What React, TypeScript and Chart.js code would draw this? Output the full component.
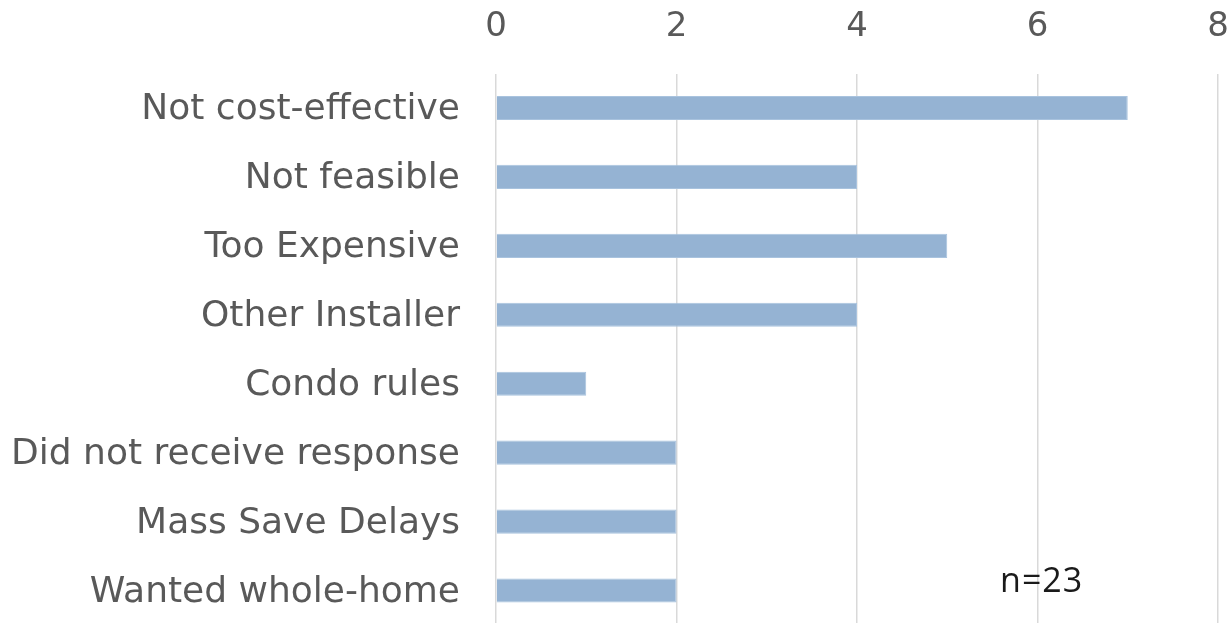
import React, { useEffect, useRef } from "react";
import { Chart, registerables } from "chart.js";

Chart.register(...registerables);

const categories = [
  "Not cost-effective",
  "Not feasible",
  "Too Expensive",
  "Other Installer",
  "Condo rules",
  "Did not receive response",
  "Mass Save Delays",
  "Wanted whole-home",
];
const counts = [7, 4, 5, 4, 1, 2, 2, 2];
const xTicks = [0, 2, 4, 6, 8];
const noteText = "n=23";

const FONT = "'DejaVu Sans', sans-serif";

export default function App() {
  const ref = useRef<HTMLCanvasElement | null>(null);
  useEffect(() => {
    document.body.style.margin = "0";
    const notePlugin = {
      id: "note",
      afterDraw(chart: any) {
        const ctx = chart.ctx;
        const x = chart.scales.x.getPixelForValue(5.585);
        const y = chart.scales.y.getPixelForValue(categories.length - 1) - 8;
        ctx.save();
        (ctx as any).letterSpacing = "1px";
        ctx.font = `34px 'Open Sans', sans-serif`;
        ctx.fillStyle = "#1a1a1a";
        ctx.textAlign = "left";
        ctx.textBaseline = "middle";
        ctx.fillText(noteText, x, y);
        ctx.restore();
      },
    };
    const chart = new Chart(ref.current as HTMLCanvasElement, {
      type: "bar",
      data: {
        labels: categories,
        datasets: [
          {
            data: counts,
            backgroundColor: "#95B3D3",
            borderColor: "#A9C3DE",
            borderWidth: 1,
            categoryPercentage: 1,
            barPercentage: 0.35,
          },
        ],
      },
      options: {
        indexAxis: "y",
        animation: false,
        responsive: true,
        maintainAspectRatio: false,
        layout: { padding: { left: 0, right: 9, top: 0, bottom: 0 } },
        plugins: { legend: { display: false }, tooltip: { enabled: false } },
        scales: {
          x: {
            position: "top",
            min: 0,
            max: 8,
            afterBuildTicks: (s: any) => {
              s.ticks = xTicks.map((v) => ({ value: v }));
            },
            afterFit: (s: any) => {
              s.height = 73.5;
              s.paddingLeft = 0;
              s.paddingRight = 0;
            },
            grid: { color: "#D9D9D9", lineWidth: 1.5, drawTicks: false },
            border: { display: false },
            ticks: {
              color: "#595959",
              font: { family: FONT, size: 34 },
              padding: 26,
            },
          },
          y: {
            grid: { display: false, drawTicks: false },
            border: { display: false },
            afterFit: (s: any) => {
              s.width = 496;
              s.paddingTop = 0;
              s.paddingBottom = 0;
            },
            ticks: {
              color: "#595959",
              font: { family: FONT, size: 36 },
              padding: 36,
              labelOffset: 2,
            },
          },
        },
      },
      plugins: [notePlugin],
    } as any);
    return () => chart.destroy();
  }, []);
  return (
    <div style={{ position: "fixed", left: 0, top: 0, width: 1227, height: 623, overflow: "hidden", background: "#fff" }}>
      <div style={{ position: "relative", width: 1227, height: 625 }}>
        <canvas ref={ref} />
      </div>
    </div>
  );
}
